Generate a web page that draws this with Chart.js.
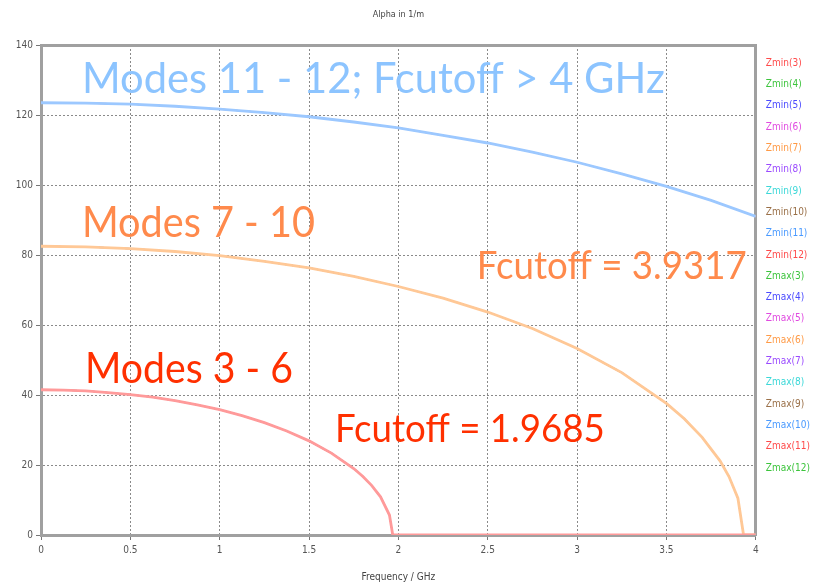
<!DOCTYPE html>
<html>
<head>
<meta charset="utf-8">
<script src="https://cdn.jsdelivr.net/npm/chart.js@4.4.1/dist/chart.umd.min.js"></script>
<style>
    html, body { margin: 0; padding: 0; background: #fff; }
    #wrap { width: 822px; height: 588px; }
</style>
</head>
<body>
<div id="wrap"><canvas id="myChart" width="822" height="588"></canvas></div>
<script>
// data
// modes 3 - 6 (cutoff 1.9685 GHz)
const freqA = [0, 0.125, 0.25, 0.375, 0.5, 0.625, 0.75, 0.875, 1, 1.125, 1.25, 1.375, 1.5, 1.625, 1.75, 1.8, 1.85, 1.9, 1.95, 1.9685, 2, 2.5, 3, 3.5, 4];
const alphaA = [41.5, 41.4, 41.2, 40.7, 40.1, 39.4, 38.4, 37.2, 35.8, 34.1, 32.1, 29.7, 26.9, 23.4, 19.0, 16.8, 14.2, 10.9, 5.7, 0, 0, 0, 0, 0, 0];

// modes 7 - 10 (cutoff 3.9317 GHz)
const freqB = [0, 0.25, 0.5, 0.75, 1, 1.25, 1.5, 1.75, 2, 2.25, 2.5, 2.75, 3, 3.25, 3.5, 3.6, 3.7, 3.8, 3.85, 3.9, 3.9317, 4];
const alphaB = [82.5, 82.3, 81.8, 81.0, 79.8, 78.2, 76.3, 73.9, 71.0, 67.7, 63.7, 59.0, 53.3, 46.4, 37.6, 33.2, 27.9, 21.2, 16.7, 10.5, 0, 0];

// modes 11 - 12 (cutoff above 4 GHz)
const freqC = [0, 0.25, 0.5, 0.75, 1, 1.25, 1.5, 1.75, 2, 2.25, 2.5, 2.75, 3, 3.25, 3.5, 3.75, 4];
const alphaC = [123.5, 123.4, 123.1, 122.5, 121.7, 120.7, 119.5, 118.0, 116.3, 114.2, 112.0, 109.4, 106.5, 103.2, 99.6, 95.6, 91.0];

const modes = [3, 4, 5, 6, 7, 8, 9, 10, 11, 12];
const xTicks = [0, 0.5, 1, 1.5, 2, 2.5, 3, 3.5, 4];
const yTicks = [0, 20, 40, 60, 80, 100, 120, 140];

// styles
const palette = ['#ff4a4a', '#3cc43c', '#4a4aff', '#e04ae0', '#ff9a46', '#9a4aff', '#3cd8d8', '#9a7048', '#4a9aff'];
const linePalette = ['#ff9a9a', '#98dc98', '#9a9aff', '#ee9aee', '#ffc896', '#c89aff', '#98e8e8', '#c8b09a', '#9cc8ff'];
const gridColor = '#8a8a8a';
const frameColor = '#a0a0a0';
const tickFont = { family: "'DejaVu Sans Condensed', 'Liberation Sans Narrow', sans-serif", size: 10 };

const notes = [
    { text: 'Modes 11 - 12; Fcutoff > 4 GHz', x0: 0.229, x1: 3.491, y: 126.3, size: 43, color: '#8cc4ff' },
    { text: 'Modes 7 - 10', x0: 0.229, x1: 1.533, y: 85.1, size: 43, color: '#ff8a4c' },
    { text: 'Fcutoff = 3.9317', x0: 2.439, x1: 3.950, y: 73.1, size: 39, color: '#ff8a4c' },
    { text: 'Modes 3 - 6', x0: 0.246, x1: 1.410, y: 43.4, size: 43, color: '#ff3000' },
    { text: 'Fcutoff = 1.9685', x0: 1.645, x1: 3.155, y: 26.6, size: 38, color: '#ff3000' }
];

function curveFor(mode) {
    if (mode <= 6) return freqA.map((f, i) => ({ x: f, y: alphaA[i] }));
    if (mode <= 10) return freqB.map((f, i) => ({ x: f, y: alphaB[i] }));
    return freqC.map((f, i) => ({ x: f, y: alphaC[i] }));
}

const names = [];
modes.forEach(m => names.push({ label: 'Zmin(' + m + ')', mode: m }));
modes.forEach(m => names.push({ label: 'Zmax(' + m + ')', mode: m }));

// the first trace of each mode group ends up on top, so it gets the wider pen
const topTraces = ['Zmin(3)', 'Zmin(7)', 'Zmin(11)'];

const datasets = names.map((n, i) => ({
    label: n.label,
    data: curveFor(n.mode),
    borderColor: linePalette[i % linePalette.length],
    backgroundColor: palette[i % palette.length],
    borderWidth: topTraces.includes(n.label) ? 2.8 : 1.2,
    pointRadius: 0,
    tension: 0,
    fill: false
}));

// big coloured labels inside the plot
const notesPlugin = {
    id: 'notes',
    afterDatasetsDraw(chart) {
        const ctx = chart.ctx;
        const xs = chart.scales.x, ys = chart.scales.y;
        notes.forEach(n => {
            const px0 = xs.getPixelForValue(n.x0);
            const px1 = xs.getPixelForValue(n.x1);
            const py = ys.getPixelForValue(n.y);
            ctx.save();
            ctx.font = n.size + 'px Lato, "Open Sans", sans-serif';
            const w = ctx.measureText(n.text).width;
            ctx.translate(px0, py);
            ctx.scale((px1 - px0) / w, 1);
            ctx.fillStyle = n.color;
            ctx.textBaseline = 'alphabetic';
            ctx.fillText(n.text, 0, 0);
            ctx.restore();
        });
    }
};

const config = {
    type: 'line',
    data: { datasets },
    options: {
        responsive: false,
        animation: false,
        layout: { padding: { left: 0, top: 0, bottom: 0, right: 2 } },
        plugins: {
            title: { display: false },
            tooltip: { enabled: false },
            legend: {
                position: 'right',
                align: 'start',
                title: { display: true, text: ' ', font: tickFont, padding: { top: 35, bottom: 0 } },
                labels: {
                    font: tickFont,
                    boxWidth: -6.3,
                    boxHeight: 10,
                    padding: 11.3,
                    generateLabels(chart) {
                        return chart.data.datasets.map((ds, i) => ({
                            text: ds.label,
                            fontColor: ds.backgroundColor,
                            fillStyle: 'rgba(0,0,0,0)',
                            strokeStyle: 'rgba(0,0,0,0)',
                            lineWidth: 0,
                            hidden: false,
                            datasetIndex: i
                        }));
                    }
                }
            }
        },
        scales: {
            x: {
                type: 'linear',
                position: 'bottom',
                min: 0,
                max: 4,
                afterBuildTicks: s => { s.ticks = xTicks.map(v => ({ value: v })); },
                afterFit: s => { s.height = 53; },
                ticks: { font: tickFont, color: '#555', padding: 4, maxRotation: 0, callback: v => String(v) },
                grid: { color: gridColor, lineWidth: 1, tickLength: 5, tickColor: '#777' },
                border: { color: frameColor, width: 3, dash: [2, 2] },
                title: { display: true, text: 'Frequency / GHz', font: tickFont, color: '#444', padding: { top: 0, bottom: 5 } }
            },
            x2: {
                type: 'linear',
                position: 'top',
                min: 0,
                max: 4,
                afterFit: s => { s.height = 45; },
                ticks: { display: false },
                grid: { display: false },
                border: { color: frameColor, width: 3 },
                title: { display: true, text: 'Alpha in 1/m', font: { family: tickFont.family, size: 9 }, color: '#444', padding: { top: 9.6, bottom: 0 } }
            },
            y: {
                type: 'linear',
                position: 'left',
                min: 0,
                max: 140,
                afterBuildTicks: s => { s.ticks = yTicks.map(v => ({ value: v })); },
                afterFit: s => { s.width = 41; },
                ticks: { font: tickFont, color: '#555', padding: 3, callback: v => String(v) },
                grid: { color: gridColor, lineWidth: 1, tickLength: 5, tickColor: '#777' },
                border: { color: frameColor, width: 3, dash: [2, 2] }
            },
            y2: {
                type: 'linear',
                position: 'right',
                min: 0,
                max: 140,
                afterFit: s => { s.width = 0; },
                ticks: { display: false },
                grid: { display: false },
                border: { color: frameColor, width: 3 }
            }
        }
    },
    plugins: [notesPlugin]
};

const myChart = new Chart(document.getElementById('myChart'), config);
</script>
</body>
</html>
